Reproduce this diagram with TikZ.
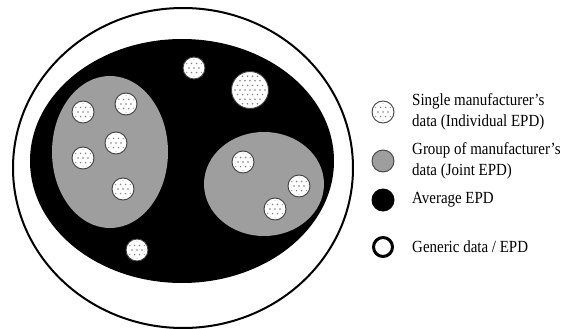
\documentclass[tikz,border=0pt]{standalone}
\usepackage{fontspec}
\setmainfont[FakeStretch=0.88]{Liberation Serif}
% one manufacturer's dotted circle: x, y, radius
\newcommand{\singledata}[3]{%
  \fill[white] (#1,#2) circle (#3);
  \begin{scope}
    \clip (#1,#2) circle ({#3-2});
    \foreach \i in {-4,...,4}
      \foreach \j in {-4,...,4}
        \fill[black!50] ({#1+\i*5+2.5*isodd(\j)},{#2+\j*4.6}) circle (0.85);
  \end{scope}
  \draw[black!75, line width=0.9pt] (#1,#2) circle (#3);
}
\begin{document}
\begin{tikzpicture}[x=1pt, y=-1pt,
  generic/.style={draw=black, line width=2pt, fill=white},
  average/.style={fill=black},
  joint/.style={fill=black!38},
  legtext/.style={anchor=west, align=left, inner sep=0pt,
    font=\fontsize{17}{20.5}\selectfont}]
  \useasboundingbox (0,0) rectangle (587,329);
  % nested data sets
  \draw[generic] (183,168) ellipse [x radius=170, y radius=160];
  \fill[average] (182,161) ellipse [x radius=152, y radius=122];
  \fill[joint] (110,152) ellipse [x radius=58, y radius=76];
  \fill[joint] (264,184) ellipse [x radius=60, y radius=52];
  % single manufacturers
  \singledata{194}{68}{11}
  \singledata{250}{90}{18.5}
  \singledata{83}{112}{11}
  \singledata{126}{104}{11}
  \singledata{116}{143}{11}
  \singledata{83}{158}{11}
  \singledata{123}{189}{11}
  \singledata{243}{162}{11}
  \singledata{299}{186}{11}
  \singledata{275}{209}{11}
  \singledata{137}{250}{11}
  % legend
  \singledata{383}{112}{11}
  \draw[black!75, line width=0.9pt, joint] (383,161) circle (11);
  \fill[average] (383,200) circle (11.5);
  \draw[generic, line width=3pt] (383,247) circle (9.5);
  \node[legtext] (single) at (412,112) {Single manufacturer's\\data (Individual EPD)};
  \node[legtext] (group) at (412,161) {Group of manufacturer's\\data (Joint EPD)};
  \node[legtext] (avg) at (412,200) {Average EPD};
  \node[legtext] (gen) at (412,247) {Generic data / EPD};
\end{tikzpicture}
\end{document}
